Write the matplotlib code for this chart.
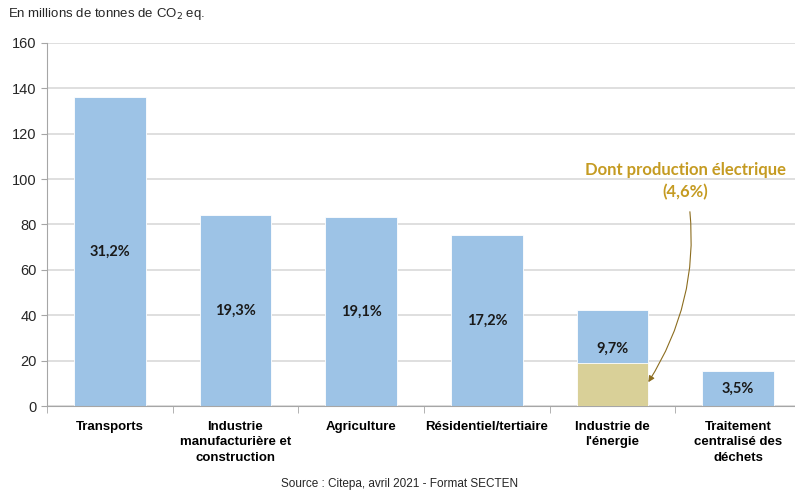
import numpy as np
from matplotlib import pyplot as plt

categories = ["Transports", "Industrie\nmanufacturière et\nconstruction", "Agriculture",
              "Résidentiel/tertiaire", "Industrie de\nl'énergie", "Traitement\ncentralisé des\ndéchets"]
emissions = [136.1, 84.1, 83.3, 75.3, 42.3, 15.4]
shares = ["31,2%", "19,3%", "19,1%", "17,2%", "9,7%", "3,5%"]
elec_index = 4
elec_value = 18.9
elec_label = "Dont production électrique\n(4,6%)"

blue = "#9DC3E6"
tan = "#D9D098"
gold = "#C59B22"
grid = "#D9D9D9"

fig = plt.figure(figsize=(7.95, 4.9), dpi=100)
ax = fig.add_axes([47 / 795, 84 / 490, 754 / 795, 363 / 490])

x = np.arange(len(categories))
ax.bar(x, emissions, width=0.57, color=blue, edgecolor="white", linewidth=0.6, zorder=2)
ax.bar(x[elec_index], elec_value, width=0.57, color=tan, edgecolor="white", linewidth=0.6, zorder=3)

for i, (h, s) in enumerate(zip(emissions, shares)):
    y = h * 0.6 if i == elec_index else h / 2
    ax.text(x[i], y, s, ha="center", va="center", fontsize=10.5,
            fontfamily="Lato", fontweight="bold", color="#1a1a1a", zorder=4)

ax.set_xlim(-0.5, len(categories) - 0.5)
ax.set_ylim(0, 160)
ax.set_yticks(range(0, 161, 20))
ax.yaxis.grid(True, color=grid, linewidth=1.2, zorder=0)
ax.set_axisbelow(True)

ax.set_xticks(x)
ax.set_xticklabels(categories, fontsize=9.5, fontweight="bold", fontfamily="Liberation Sans",
                   linespacing=1.35)
ax.set_xticks(np.arange(-0.5, len(categories)), minor=True)
ax.tick_params(axis="x", which="major", length=0, pad=11)
ax.tick_params(axis="x", which="minor", length=5, color="#A6A6A6")
ax.tick_params(axis="y", length=4, color="#A6A6A6", labelsize=10.5, labelcolor="#262626")
for lab in ax.get_yticklabels():
    lab.set_fontfamily("Liberation Sans")

for side in ["top", "right"]:
    ax.spines[side].set_visible(False)
ax.spines["left"].set_color("#A6A6A6")
ax.spines["bottom"].set_color("#A6A6A6")

ax.annotate(elec_label, xy=(x[elec_index] + 0.285, 10.5), xytext=(x[elec_index] + 0.58, 90.5),
            ha="center", va="bottom", fontsize=12, fontfamily="Lato", fontweight="bold",
            color=gold, linespacing=1.45,
            arrowprops=dict(arrowstyle="-|>", color="#8C6D1F", lw=0.8, mutation_scale=9,
                            shrinkA=6, shrinkB=0, connectionstyle="arc3,rad=-0.2"), zorder=5)

fig.text(8 / 795, 1 - 14 / 490, "En millions de tonnes de CO$_2$ eq.", fontsize=9.5,
         fontfamily="Liberation Sans", va="center", ha="left", color="#262626")
fig.text(400 / 795, 1 - 484 / 490, "Source : Citepa, avril 2021 - Format SECTEN", fontsize=8.5,
         fontfamily="Liberation Sans", va="center", ha="center", color="#262626")

fig.savefig("out.png", dpi=100)
